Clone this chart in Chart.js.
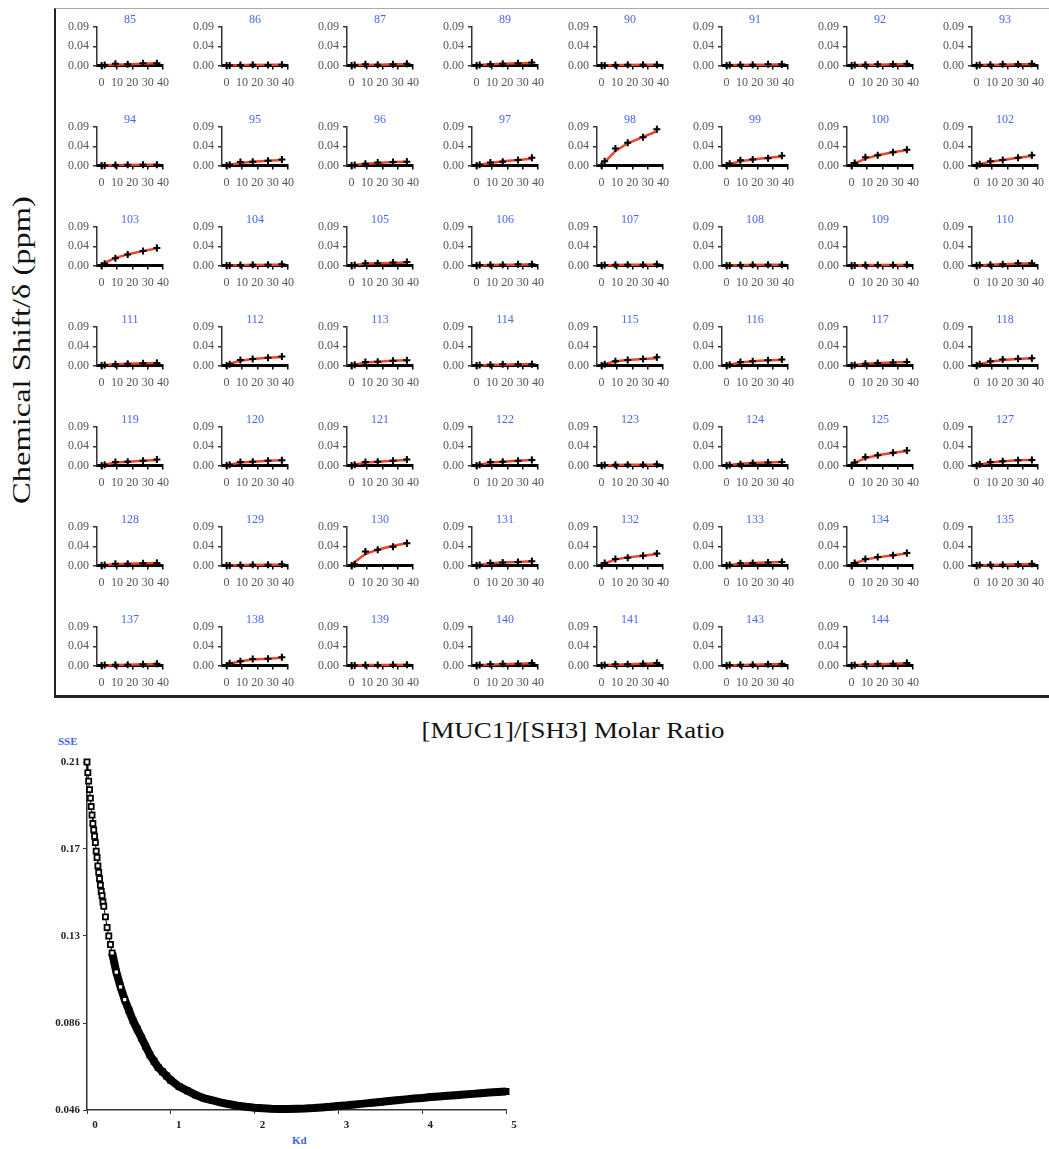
<!DOCTYPE html>
<html>
<head>
<meta charset="utf-8">
<script src="https://cdn.jsdelivr.net/npm/chart.js@4.4.1/dist/chart.umd.min.js"></script>
<style>
  body { margin: 0; background: #fff; width: 1049px; height: 1149px; position: relative; overflow: hidden; font-family: 'Liberation Serif', serif; }
  #grid { position: absolute; left: 54px; top: 8px; width: 1000px; height: 690px; box-sizing: border-box;
          border-left: 2px solid #222; border-bottom: 3px solid #222; border-top: 1px solid #aaa; }
  canvas { position: absolute; }
  .label { position: absolute; white-space: nowrap; color: #111; }
  #ylab { left: 22px; top: 350px; font-size: 25px; transform: translate(-50%, -50%) rotate(-90deg) scaleX(1.3); }
  #xlab { left: 573px; top: 730px; font-size: 24px; transform: translate(-50%, -50%) scaleX(1.12); }
  .blue { color: #3f63ee; font-weight: bold; font-size: 11px; }
</style>
</head>
<body>
<div id="grid"></div>
<div class="label" id="ylab">Chemical Shift/δ (ppm)</div>
<div class="label" id="xlab">[MUC1]/[SH3] Molar Ratio</div>
<div class="label blue" style="left:58px;top:735px;">SSE</div>
<div class="label blue" style="left:292px;top:1134px;">Kd</div>
<script>
'use strict';

// residue numbers, laid out 8 per row
const RESIDUES = [
  85, 86, 87, 89, 90, 91, 92, 93,
  94, 95, 96, 97, 98, 99, 100, 102,
  103, 104, 105, 106, 107, 108, 109, 110,
  111, 112, 113, 114, 115, 116, 117, 118,
  119, 120, 121, 122, 123, 124, 125, 127,
  128, 129, 130, 131, 132, 133, 134, 135,
  137, 138, 139, 140, 141, 143, 144
];

// [MUC1]/[SH3] molar ratio of each titration point
const RATIOS = [0, 2, 9, 17, 27, 36];
const SHIFT_ERR = [0.002, 0.004, 0.006, 0.006, 0.007, 0.008];

// observed chemical shift changes (ppm), one row per residue
const SHIFTS = [
  [0, 0.001, 0.004, 0.003, 0.005, 0.005], [0, 0.000, 0.001, 0.002, 0.001, 0.002],
  [0, 0.001, 0.003, 0.002, 0.003, 0.004], [0, 0.001, 0.003, 0.004, 0.005, 0.007],
  [0, 0.000, 0.001, 0.002, 0.002, 0.002], [0, 0.001, 0.002, 0.002, 0.003, 0.003],
  [0, 0.001, 0.002, 0.003, 0.003, 0.004], [0, 0.001, 0.002, 0.003, 0.003, 0.004],
  [0, 0.000, 0.001, 0.002, 0.002, 0.002], [0, 0.002, 0.008, 0.009, 0.011, 0.014],
  [0, 0.001, 0.004, 0.007, 0.008, 0.009], [0, 0.002, 0.007, 0.009, 0.013, 0.018],
  [0, 0.010, 0.040, 0.053, 0.066, 0.085], [0, 0.004, 0.012, 0.014, 0.017, 0.023],
  [0, 0.006, 0.019, 0.024, 0.031, 0.037], [0, 0.003, 0.010, 0.013, 0.018, 0.024],
  [0, 0.004, 0.017, 0.026, 0.034, 0.041], [0, 0.000, 0.001, 0.002, 0.002, 0.003],
  [0, 0.001, 0.005, 0.005, 0.007, 0.008], [0, 0.001, 0.002, 0.002, 0.003, 0.003],
  [0, 0.001, 0.002, 0.002, 0.002, 0.003], [0, 0.000, 0.001, 0.002, 0.002, 0.002],
  [0, 0.000, 0.001, 0.001, 0.001, 0.002], [0, 0.001, 0.002, 0.003, 0.005, 0.005],
  [0, 0.001, 0.003, 0.004, 0.005, 0.006], [0, 0.003, 0.013, 0.015, 0.018, 0.021],
  [0, 0.002, 0.008, 0.009, 0.011, 0.012], [0, 0.001, 0.002, 0.003, 0.003, 0.003],
  [0, 0.003, 0.010, 0.013, 0.015, 0.019], [0, 0.002, 0.008, 0.010, 0.012, 0.014],
  [0, 0.001, 0.004, 0.006, 0.007, 0.008], [0, 0.003, 0.010, 0.014, 0.016, 0.017],
  [0, 0.002, 0.008, 0.009, 0.011, 0.014], [0, 0.002, 0.008, 0.009, 0.011, 0.012],
  [0, 0.002, 0.008, 0.009, 0.011, 0.014], [0, 0.002, 0.008, 0.009, 0.011, 0.013],
  [0, 0.001, 0.002, 0.002, 0.002, 0.003], [0, 0.001, 0.003, 0.006, 0.007, 0.008],
  [0, 0.007, 0.020, 0.024, 0.030, 0.035], [0, 0.003, 0.008, 0.010, 0.012, 0.013],
  [0, 0.001, 0.004, 0.004, 0.005, 0.006], [0, 0.000, 0.001, 0.002, 0.002, 0.003],
  [0, 0.003, 0.033, 0.037, 0.044, 0.052], [0, 0.001, 0.006, 0.007, 0.008, 0.010],
  [0, 0.006, 0.015, 0.018, 0.023, 0.028], [0, 0.001, 0.005, 0.006, 0.007, 0.008],
  [0, 0.006, 0.015, 0.020, 0.024, 0.029], [0, 0.001, 0.002, 0.002, 0.003, 0.004],
  [0, 0.001, 0.002, 0.002, 0.003, 0.004], [0, 0.005, 0.010, 0.015, 0.016, 0.019],
  [0, 0.000, 0.001, 0.001, 0.002, 0.002], [0, 0.001, 0.003, 0.004, 0.004, 0.006],
  [0, 0.001, 0.003, 0.003, 0.004, 0.006], [0, 0.001, 0.002, 0.002, 0.003, 0.004],
  [0, 0.001, 0.003, 0.004, 0.004, 0.006]
];

// fitted binding curve at the same ratios
const FITS = [
  [0, 0.001, 0.002, 0.003, 0.004, 0.005], [0, 0.000, 0.001, 0.001, 0.002, 0.002],
  [0, 0.001, 0.002, 0.002, 0.003, 0.003], [0, 0.001, 0.003, 0.004, 0.005, 0.006],
  [0, 0.000, 0.001, 0.001, 0.002, 0.002], [0, 0.001, 0.001, 0.002, 0.002, 0.003],
  [0, 0.001, 0.002, 0.002, 0.003, 0.003], [0, 0.001, 0.002, 0.002, 0.003, 0.003],
  [0, 0.000, 0.001, 0.001, 0.002, 0.002], [0, 0.002, 0.006, 0.009, 0.011, 0.013],
  [0, 0.001, 0.004, 0.006, 0.008, 0.009], [0, 0.002, 0.006, 0.010, 0.013, 0.016],
  [0, 0.008, 0.034, 0.052, 0.067, 0.080], [0, 0.003, 0.010, 0.014, 0.018, 0.021],
  [0, 0.005, 0.016, 0.024, 0.031, 0.036], [0, 0.003, 0.009, 0.013, 0.018, 0.022],
  [0, 0.006, 0.018, 0.026, 0.034, 0.040], [0, 0.000, 0.001, 0.001, 0.002, 0.002],
  [0, 0.001, 0.004, 0.005, 0.006, 0.007], [0, 0.000, 0.001, 0.002, 0.002, 0.003],
  [0, 0.000, 0.001, 0.002, 0.002, 0.002], [0, 0.000, 0.001, 0.001, 0.002, 0.002],
  [0, 0.000, 0.001, 0.001, 0.001, 0.001], [0, 0.000, 0.002, 0.003, 0.004, 0.005],
  [0, 0.001, 0.003, 0.004, 0.005, 0.006], [0, 0.004, 0.011, 0.015, 0.018, 0.020],
  [0, 0.002, 0.007, 0.009, 0.011, 0.012], [0, 0.000, 0.002, 0.002, 0.003, 0.003],
  [0, 0.003, 0.010, 0.013, 0.015, 0.017], [0, 0.002, 0.007, 0.010, 0.012, 0.013],
  [0, 0.001, 0.004, 0.006, 0.007, 0.008], [0, 0.003, 0.009, 0.013, 0.015, 0.017],
  [0, 0.002, 0.007, 0.009, 0.011, 0.013], [0, 0.002, 0.007, 0.009, 0.011, 0.012],
  [0, 0.002, 0.007, 0.009, 0.011, 0.013], [0, 0.002, 0.007, 0.009, 0.011, 0.013],
  [0, 0.000, 0.001, 0.002, 0.002, 0.002], [0, 0.001, 0.004, 0.006, 0.007, 0.008],
  [0, 0.006, 0.017, 0.024, 0.030, 0.034], [0, 0.002, 0.007, 0.010, 0.012, 0.013],
  [0, 0.001, 0.003, 0.004, 0.005, 0.006], [0, 0.000, 0.001, 0.001, 0.002, 0.002],
  [0, 0.008, 0.027, 0.037, 0.046, 0.052], [0, 0.001, 0.005, 0.007, 0.008, 0.010],
  [0, 0.005, 0.014, 0.019, 0.023, 0.027], [0, 0.001, 0.004, 0.006, 0.007, 0.008],
  [0, 0.005, 0.014, 0.019, 0.024, 0.028], [0, 0.000, 0.001, 0.002, 0.003, 0.003],
  [0, 0.000, 0.001, 0.002, 0.003, 0.003], [0, 0.004, 0.010, 0.014, 0.016, 0.018],
  [0, 0.000, 0.001, 0.001, 0.001, 0.002], [0, 0.001, 0.002, 0.003, 0.004, 0.005],
  [0, 0.001, 0.002, 0.003, 0.004, 0.005], [0, 0.000, 0.001, 0.002, 0.003, 0.003],
  [0, 0.001, 0.002, 0.003, 0.004, 0.005]
];

const SHIFT_TICKS = [0, 0.045, 0.09];
const SHIFT_TICK_LABELS = ['0.00', '0.04', '0.09'];
const RATIO_TICKS = [0, 10, 20, 30, 40];

// SSE of the global fit against trial Kd
const KD = [
  0, 0.01, 0.02, 0.03, 0.04, 0.05, 0.06, 0.07, 0.08, 0.09, 0.10,
  0.11, 0.12, 0.13, 0.14, 0.15, 0.16, 0.17, 0.18, 0.19, 0.20,
  0.22, 0.24, 0.26, 0.28, 0.30,
  0.35, 0.40, 0.45, 0.50, 0.55, 0.60, 0.65, 0.70, 0.75, 0.80, 0.85, 0.90, 0.95, 1.00,
  1.1, 1.2, 1.3, 1.4, 1.5, 1.6, 1.7, 1.8, 1.9, 2.0, 2.1, 2.2, 2.3, 2.4, 2.5, 2.6, 2.7, 2.8, 2.9, 3.0,
  3.1, 3.2, 3.3, 3.4, 3.5, 3.6, 3.7, 3.8, 3.9, 4.0, 4.1, 4.2, 4.3, 4.4, 4.5, 4.6, 4.7, 4.8, 4.9, 5.0
];
const SSE = [
  0.210, 0.205, 0.201, 0.197, 0.193, 0.189, 0.185, 0.181, 0.178, 0.175, 0.172,
  0.168, 0.165, 0.161, 0.158, 0.155, 0.152, 0.149, 0.147, 0.144, 0.142,
  0.137, 0.132, 0.128, 0.124, 0.120,
  0.111, 0.104, 0.098, 0.093, 0.088, 0.084, 0.080, 0.076, 0.072, 0.069, 0.066, 0.064, 0.062, 0.060,
  0.0570, 0.0550, 0.0530, 0.0515, 0.0505, 0.0495, 0.0487, 0.0480, 0.0475, 0.0471, 0.0468, 0.0466, 0.0465, 0.0465,
  0.0466, 0.0467, 0.0469, 0.0472, 0.0475, 0.0479,
  0.0482, 0.0486, 0.0490, 0.0494, 0.0498, 0.0502, 0.0506, 0.0510, 0.0514, 0.0517,
  0.0521, 0.0524, 0.0527, 0.0530, 0.0533, 0.0536, 0.0539, 0.0542, 0.0545, 0.0547
];
const SSE_TICKS = [0.046, 0.087, 0.128, 0.169, 0.21];
const SSE_TICK_LABELS = ['0.046', '0.086', '0.13', '0.17', '0.21'];
const KD_TICKS = [0, 1, 2, 3, 4, 5];

Chart.defaults.font.family = "'Liberation Serif', serif";
Chart.defaults.animation = false;

/* error bars of the observed shifts + residue number above each panel */
const panelDecor = {
  id: 'panelDecor',
  afterDatasetsDraw(chart, args, opts) {
    const { ctx, chartArea, scales: { x, y } } = chart;
    const pts = chart.data.datasets[1].data;

    ctx.save();
    ctx.strokeStyle = '#000';
    ctx.lineWidth = 1.2;
    for(let i = 0; i < pts.length; i++) {
      const px = x.getPixelForValue(pts[i].x);
      ctx.beginPath();
      ctx.moveTo(px, y.getPixelForValue(pts[i].y - SHIFT_ERR[i]));
      ctx.lineTo(px, y.getPixelForValue(pts[i].y + SHIFT_ERR[i]));
      ctx.stroke();
    }

    ctx.fillStyle = '#4a66f0';
    ctx.font = "12px 'Liberation Serif', serif";
    ctx.textAlign = 'center';
    ctx.textBaseline = 'middle';
    ctx.fillText(opts.text, (chartArea.left + chartArea.right) / 2, chartArea.top - 7);
    ctx.restore();
  }
};

function makePanel(idx) {
  const col = idx % 8;
  const row = Math.floor(idx / 8);
  const axisX = 96.5 + 125.1 * col;
  const topY = 26.5 + 100.1 * row;

  const canvas = document.createElement('canvas');
  canvas.width = 125;
  canvas.height = 92;
  canvas.style.left = (axisX - 42) + 'px';
  canvas.style.top = (topY - 20) + 'px';
  document.body.appendChild(canvas);

  const toPoints = arr => arr.map((v, i) => ({ x: RATIOS[i], y: v }));

  new Chart(canvas, {
    type: 'scatter',
    data: {
      datasets: [
        { data: toPoints(FITS[idx]), showLine: true, borderColor: '#ee4428', borderWidth: 2.5,
          pointRadius: 0, clip: false, order: 2 },
        { data: toPoints(SHIFTS[idx]), pointStyle: 'cross', pointRadius: 3.5, borderColor: '#000',
          borderWidth: 2, clip: false, order: 1 }
      ]
    },
    options: {
      responsive: false,
      events: [],
      layout: { padding: { top: 20, right: 17, left: 0, bottom: 0 } },
      plugins: { legend: { display: false }, tooltip: { enabled: false }, panelDecor: { text: String(RESIDUES[idx]) } },
      scales: {
        x: {
          type: 'linear', min: -3, max: 40,
          afterBuildTicks: s => { s.ticks = RATIO_TICKS.map(v => ({ value: v })); },
          afterFit: s => { s.height = 33.5; },
          border: { color: '#000', width: 3 },
          grid: { drawOnChartArea: false, tickLength: 4, color: '#000', lineWidth: 1.5 },
          ticks: { color: '#555', font: { size: 12 }, padding: 6, maxRotation: 0, autoSkip: false }
        },
        y: {
          min: 0, max: 0.09,
          afterBuildTicks: s => { s.ticks = SHIFT_TICKS.map(v => ({ value: v })); },
          afterFit: s => { s.width = 42; },
          border: { color: '#333', width: 1.5 },
          grid: { drawOnChartArea: false, tickLength: 4, color: '#333', lineWidth: 1.5 },
          ticks: { color: '#555', font: { size: 12 }, padding: 4, callback: (v, i) => SHIFT_TICK_LABELS[i] }
        }
      }
    },
    plugins: [panelDecor]
  });
}

for(let i = 0; i < RESIDUES.length; i++) makePanel(i);

/* SSE vs Kd scan */
const sseCanvas = document.createElement('canvas');
sseCanvas.width = 510;
sseCanvas.height = 411;
sseCanvas.style.left = '20px';
sseCanvas.style.top = '738px';
document.body.appendChild(sseCanvas);

new Chart(sseCanvas, {
  type: 'scatter',
  data: {
    datasets: [{
      data: KD.map((k, i) => ({ x: k, y: SSE[i] })),
      showLine: true,
      borderColor: '#000',
      segment: { borderWidth: c => c.p0.parsed.x < 0.3 ? 1 : 8 },
      pointStyle: 'rect',
      pointRadius: 3.6,
      backgroundColor: c => c.raw && c.raw.x < 0.5 ? '#fff' : '#000',
      pointBorderColor: '#000',
      pointBorderWidth: 1.8,
      clip: false
    }]
  },
  options: {
    responsive: false,
    events: [],
    layout: { padding: { top: 24, right: 24 } },
    plugins: { legend: { display: false }, tooltip: { enabled: false } },
    scales: {
      x: {
        type: 'linear', min: 0, max: 5,
        afterBuildTicks: s => { s.ticks = KD_TICKS.map(v => ({ value: v })); },
        afterFit: s => { s.height = 39; },
        border: { color: '#333', width: 1.5 },
        grid: { drawOnChartArea: false, tickLength: 4, color: '#333' },
        ticks: { color: '#222', font: { size: 11, weight: 'bold' }, padding: 5, labelOffset: 8 }
      },
      y: {
        min: 0.046, max: 0.21,
        afterBuildTicks: s => { s.ticks = SSE_TICKS.map(v => ({ value: v })); },
        afterFit: s => { s.width = 67; },
        border: { color: '#333', width: 1.5 },
        grid: { drawOnChartArea: false, tickLength: 4, color: '#333' },
        ticks: { color: '#222', font: { size: 11, weight: 'bold' }, padding: 3, callback: (v, i) => SSE_TICK_LABELS[i] }
      }
    }
  }
});
</script>
</body>
</html>
